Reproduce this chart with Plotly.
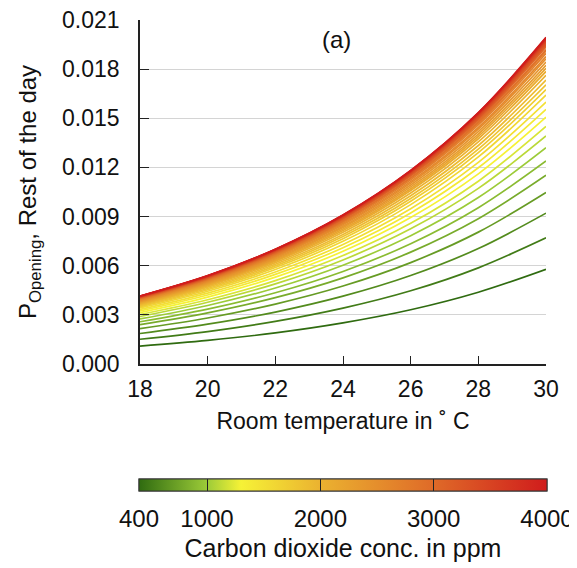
import numpy as np
import plotly.graph_objects as go
from plotly.colors import sample_colorscale

# Room temperature grid (deg C)
temps = [18, 20, 22, 24, 26, 28, 30]

# CO2 levels (ppm), one curve per level
co2_levels = list(range(400, 4001, 100))

# Opening probability per CO2 level at each temperature (units of 1e-4)
p_1e4 = [
    [10.9, 14.4, 19.0, 25.1, 33.1, 43.8, 57.8],   # 400
    [15.1, 19.8, 26.0, 34.1, 44.7, 58.7, 77.0],   # 500
    [18.6, 24.3, 31.7, 41.4, 54.0, 70.5, 92.1],   # 600
    [21.6, 28.1, 36.6, 47.6, 61.9, 80.5, 104.7],  # 700
    [24.0, 31.2, 40.5, 52.6, 68.3, 88.7, 115.2],  # 800
    [25.8, 33.5, 43.5, 56.5, 73.4, 95.4, 123.9],  # 900
    [27.5, 35.7, 46.4, 60.3, 78.3, 101.6, 132.0], # 1000
    [29.0, 37.7, 48.9, 63.5, 82.5, 107.2, 139.2], # 1100
    [30.2, 39.2, 50.9, 66.2, 85.9, 111.6, 145.0], # 1200
    [31.4, 40.8, 53.0, 68.8, 89.4, 116.1, 150.7], # 1300
    [32.4, 42.1, 54.7, 71.0, 92.2, 119.8, 155.5], # 1400
    [33.3, 43.3, 56.2, 73.0, 94.8, 123.1, 159.9], # 1500
    [34.2, 44.4, 57.7, 74.9, 97.3, 126.4, 164.2], # 1600
    [34.9, 45.3, 58.9, 76.5, 99.3, 129.0, 167.5], # 1700
    [35.5, 46.1, 59.9, 77.8, 101.0, 131.2, 170.4],# 1800
    [36.1, 46.9, 60.9, 79.1, 102.7, 133.4, 173.3],# 1900
    [36.7, 47.7, 61.9, 80.4, 104.4, 135.6, 176.2],# 2000
    [37.2, 48.3, 62.8, 81.5, 105.9, 137.5, 178.6],# 2100
    [37.6, 48.8, 63.4, 82.4, 107.0, 139.0, 180.5],# 2200
    [38.0, 49.4, 64.1, 83.3, 108.1, 140.4, 182.4],# 2300
    [38.4, 49.9, 64.8, 84.1, 109.3, 141.9, 184.3],# 2400
    [38.8, 50.4, 65.5, 85.0, 110.4, 143.4, 186.3],# 2500
    [39.1, 50.8, 66.0, 85.7, 111.3, 144.5, 187.7],# 2600
    [39.5, 51.3, 66.6, 86.5, 112.4, 146.0, 189.6],# 2700
    [39.8, 51.7, 67.1, 87.2, 113.3, 147.1, 191.1],# 2800
    [40.0, 52.0, 67.5, 87.6, 113.8, 147.8, 192.0],# 2900
    [40.3, 52.3, 68.0, 88.3, 114.7, 148.9, 193.5],# 3000
    [40.5, 52.6, 68.3, 88.7, 115.3, 149.7, 194.4],# 3100
    [40.6, 52.7, 68.5, 89.0, 115.6, 150.1, 195.0],# 3200
    [40.8, 53.0, 68.8, 89.4, 116.1, 150.8, 195.8],# 3300
    [41.0, 53.2, 69.1, 89.7, 116.6, 151.4, 196.6],# 3400
    [41.1, 53.4, 69.3, 90.0, 117.0, 151.9, 197.3],# 3500
    [41.2, 53.5, 69.6, 90.3, 117.3, 152.4, 197.9],# 3600
    [41.3, 53.7, 69.7, 90.6, 117.6, 152.8, 198.4],# 3700
    [41.4, 53.8, 69.9, 90.7, 117.9, 153.1, 198.8],# 3800
    [41.5, 53.9, 70.0, 90.9, 118.0, 153.3, 199.1],# 3900
    [41.5, 54.0, 70.1, 91.0, 118.2, 153.5, 199.4],# 4000
]

# Axis ticks
x_ticks = [18, 20, 22, 24, 26, 28, 30]
y_ticks = [0.000, 0.003, 0.006, 0.009, 0.012, 0.015, 0.018, 0.021]
y_tick_labels = ["0.000", "0.003", "0.006", "0.009", "0.012", "0.015", "0.018", "0.021"]

# Colour bar stops
cbar_ppm = [400, 1000, 1300, 2000, 3000, 4000]
cbar_colors = ["#2f6b10", "#9ccb38", "#f6f236", "#ebb230", "#df6a28", "#d01c1c"]
cbar_ticks = [400, 1000, 2000, 3000, 4000]

cmin, cmax = 400, 4000
colorscale = [[(p - cmin) / (cmax - cmin), c] for p, c in zip(cbar_ppm, cbar_colors)]

FONT = "Liberation Sans, Arial, sans-serif"

fig = go.Figure()

line_colors = sample_colorscale(colorscale, [(c - cmin) / (cmax - cmin) for c in co2_levels])
for co2, row, col in zip(co2_levels, p_1e4, line_colors):
    fig.add_trace(go.Scatter(
        x=temps, y=np.array(row) * 1e-4, mode="lines",
        line=dict(color=col, width=1.7, shape="spline"),
        showlegend=False, hoverinfo="skip", name=f"{co2} ppm"))

cb_common = dict(orientation="h", x=0.5, xanchor="center", len=1.005, lenmode="fraction",
                 y=-0.334, yanchor="top", thickness=12, xpad=0, ypad=0,
                 outlinewidth=1, outlinecolor="#333333",
                 tickvals=cbar_ticks, ticktext=[str(t) for t in cbar_ticks])

# Colour bar with labels (transparent outside ticks push labels down)
fig.add_trace(go.Scatter(
    x=[None], y=[None], mode="markers", showlegend=False,
    marker=dict(color=[cmin, cmax], colorscale=colorscale, cmin=cmin, cmax=cmax,
                showscale=True,
                colorbar=dict(
                    **cb_common,
                    ticks="outside", ticklen=7, tickcolor="rgba(0,0,0,0)",
                    tickfont=dict(family=FONT, size=24, color="#111111"),
                    title=dict(text="Carbon dioxide conc. in ppm", side="bottom",
                               font=dict(family=FONT, size=25, color="#111111")),
                ))))
# Same colour bar again, carrying the inside tick marks
fig.add_trace(go.Scatter(
    x=[None], y=[None], mode="markers", showlegend=False,
    marker=dict(color=[cmin, cmax], colorscale=colorscale, cmin=cmin, cmax=cmax,
                showscale=True,
                colorbar=dict(
                    **cb_common,
                    ticks="inside", ticklen=12, tickcolor="#222222", tickwidth=1,
                    showticklabels=False,
                ))))

fig.add_annotation(x=0.485, y=0.988, xref="paper", yref="paper", text="(a)",
                   showarrow=False, font=dict(family=FONT, size=24, color="#111111"))

fig.update_layout(
    width=577, height=568,
    margin=dict(l=132, r=39, t=12, b=212, autoexpand=False),
    paper_bgcolor="white", plot_bgcolor="white",
    font=dict(family=FONT, color="#111111"),
    xaxis=dict(range=[18, 30], tickvals=x_ticks, ticks="inside", ticklen=8,
               tickcolor="#222222", showline=True, linecolor="#222222", linewidth=1.5,
               showgrid=False, zeroline=False, tickfont=dict(size=23),
               ticklabelstandoff=4, ticklabeloverflow="allow",
               title=dict(text="Room temperature in ˚ C", font=dict(size=23), standoff=12)),
    yaxis=dict(range=[0, 0.021], tickvals=y_ticks, ticktext=y_tick_labels,
               ticks="inside", ticklen=9, tickcolor="#222222",
               showline=True, linecolor="#222222", linewidth=1.5,
               showgrid=True, gridcolor="#d4d4d4", gridwidth=1, zeroline=False,
               tickfont=dict(size=23), ticklabelstandoff=14, ticklabeloverflow="allow",
               title=dict(text="P<sub>Opening</sub>, Rest of the day", font=dict(size=24),
                          standoff=19)),
)

fig.write_html("out.html")
